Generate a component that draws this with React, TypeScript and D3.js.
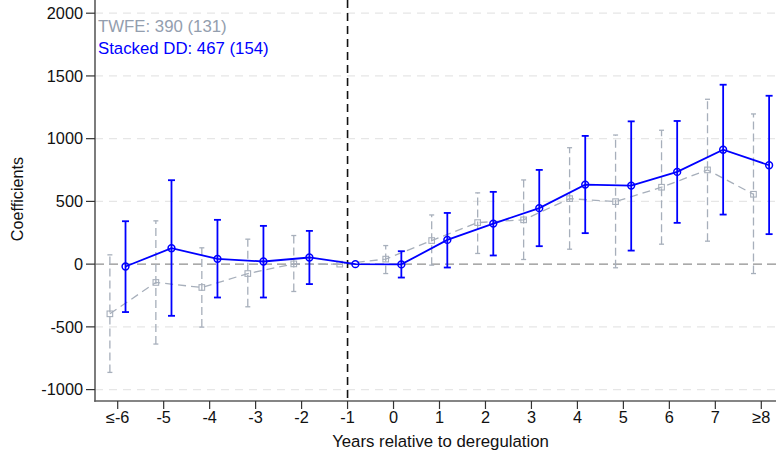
import React from "react";
import * as d3 from "d3";

// Event-time periods and their axis labels
const periods = [-6, -5, -4, -3, -2, -1, 0, 1, 2, 3, 4, 5, 6, 7, 8];
const tickLabels = ["≤-6", "-5", "-4", "-3", "-2", "-1", "0", "1", "2", "3", "4", "5", "6", "7", "≥8"];
const yTicks = [-1000, -500, 0, 500, 1000, 1500, 2000];

// Stacked difference-in-differences estimates with 95% CI bounds
const stackedCoef = [-19, 127, 42, 21, 53, 0, -2, 193, 323, 446, 634, 626, 735, 912, 788];
const stackedLo = [-382, -412, -266, -266, -159, null, -107, -27, 69, 143, 247, 108, 329, 395, 239];
const stackedHi = [342, 669, 353, 305, 265, null, 103, 408, 576, 751, 1022, 1138, 1141, 1430, 1342];

// Two-way fixed effects estimates with 95% CI bounds
const twfeCoef = [-396, -146, -186, -75, 2, 0, 40, 188, 331, 353, 522, 498, 613, 751, 557];
const twfeLo = [-863, -637, -502, -340, -218, null, -75, -8, 85, 37, 119, -29, 159, 183, -75];
const twfeHi = [74, 345, 130, 199, 228, null, 148, 392, 568, 671, 928, 1029, 1067, 1314, 1197];

const legendLines = [
  { text: "TWFE: 390 (131)", color: "#939eae" },
  { text: "Stacked DD: 467 (154)", color: "#0000ff" },
];

const W = 776;
const H = 458;
const axisX = 95;
const axisY = 401;
const FONT = "'Liberation Sans', Arial, Helvetica, sans-serif";

const x = d3.scaleLinear().domain([-6, 8]).range([117.7, 761.3]);
const y = d3.scaleLinear().domain([-1000, 2000]).range([389.6, 13.2]);

const SHIFT = 0.17;
const GRAY = "#a7afbb";
const BLUE = "#0000ff";

export default function App() {
  const twfePts = periods.map((p, i) => [x(p - SHIFT), y(twfeCoef[i])] as [number, number]);
  const stackPts = periods.map((p, i) => [x(p + SHIFT), y(stackedCoef[i])] as [number, number]);
  const line = d3.line();

  return (
    <svg
      width={W}
      height={H}
      style={{ position: "absolute", left: 0, top: 0, background: "#fff" }}
      fontFamily={FONT}
    >
      {/* horizontal gridlines */}
      {yTicks
        .filter((t) => t !== 0)
        .map((t) => (
          <line
            key={"g" + t}
            x1={axisX}
            x2={W}
            y1={y(t)}
            y2={y(t)}
            stroke="#e6e6e6"
            strokeWidth={1.2}
            strokeDasharray="8,6"
          />
        ))}
      {/* zero reference line */}
      <line x1={axisX} x2={W} y1={y(0)} y2={y(0)} stroke="#8f8f8f" strokeWidth={1.3} strokeDasharray="9,5" />

      {/* TWFE series */}
      <path d={line(twfePts) || ""} fill="none" stroke={GRAY} strokeWidth={1.3} strokeDasharray="8,5" />
      {periods.map((p, i) =>
        twfeLo[i] === null ? null : (
          <g key={"te" + p} stroke={GRAY} strokeWidth={1.3}>
            <line
              x1={x(p - SHIFT)}
              x2={x(p - SHIFT)}
              y1={y(twfeLo[i] as number)}
              y2={y(twfeHi[i] as number)}
              strokeDasharray="8,4"
            />
            <line x1={x(p - SHIFT) - 2.5} x2={x(p - SHIFT) + 2.5} y1={y(twfeHi[i] as number)} y2={y(twfeHi[i] as number)} />
            <line x1={x(p - SHIFT) - 2.5} x2={x(p - SHIFT) + 2.5} y1={y(twfeLo[i] as number)} y2={y(twfeLo[i] as number)} />
          </g>
        )
      )}
      {twfePts.map(([px, py], i) => (
        <rect key={"ts" + i} x={px - 2.8} y={py - 2.8} width={5.6} height={5.6} fill="none" stroke={GRAY} strokeWidth={1.1} />
      ))}

      {/* treatment timing marker */}
      <line x1={x(-1)} x2={x(-1)} y1={0} y2={axisY} stroke="#111" strokeWidth={1.6} strokeDasharray="8,5" />

      {/* Stacked DD series */}
      <path d={line(stackPts) || ""} fill="none" stroke={BLUE} strokeWidth={1.8} />
      {periods.map((p, i) =>
        stackedLo[i] === null ? null : (
          <g key={"se" + p} stroke={BLUE} strokeWidth={1.8}>
            <line
              x1={x(p + SHIFT)}
              x2={x(p + SHIFT)}
              y1={y(stackedLo[i] as number)}
              y2={y(stackedHi[i] as number)}
            />
            <line x1={x(p + SHIFT) - 3.5} x2={x(p + SHIFT) + 3.5} y1={y(stackedHi[i] as number)} y2={y(stackedHi[i] as number)} />
            <line x1={x(p + SHIFT) - 3.5} x2={x(p + SHIFT) + 3.5} y1={y(stackedLo[i] as number)} y2={y(stackedLo[i] as number)} />
          </g>
        )
      )}
      {stackPts.map(([px, py], i) => (
        <circle key={"sc" + i} cx={px} cy={py} r={3.4} fill="none" stroke={BLUE} strokeWidth={1.5} />
      ))}

      {/* axes */}
      <line x1={axisX} x2={axisX} y1={0} y2={axisY + 0.8} stroke="#5c5c5c" strokeWidth={1.6} />
      <line x1={axisX - 0.8} x2={W} y1={axisY} y2={axisY} stroke="#5c5c5c" strokeWidth={1.6} />
      {yTicks.map((t) => (
        <g key={"yt" + t}>
          <line x1={axisX - 9} x2={axisX} y1={y(t)} y2={y(t)} stroke="#333" strokeWidth={1.2} />
          <text x={83} y={y(t)} dy="0.35em" textAnchor="end" fontSize={16.3} fill="#111">
            {t}
          </text>
        </g>
      ))}
      {periods.map((p, i) => (
        <g key={"xt" + p}>
          <line x1={x(p)} x2={x(p)} y1={axisY} y2={axisY + 8} stroke="#333" strokeWidth={1.2} />
          <text x={x(p)} y={423} textAnchor="middle" fontSize={16.3} fill="#111">
            {tickLabels[i]}
          </text>
        </g>
      ))}
      <text x={440.5} y={447} textAnchor="middle" fontSize={16.8} fill="#111">
        Years relative to deregulation
      </text>
      <text transform={`translate(23,199) rotate(-90)`} textAnchor="middle" fontSize={16.2} fill="#111">
        Coefficients
      </text>

      {/* legend */}
      {legendLines.map((l, i) => (
        <text key={l.text} x={98} y={32 + i * 22.3} fontSize={16.8} fill={l.color}>
          {l.text}
        </text>
      ))}
    </svg>
  );
}
